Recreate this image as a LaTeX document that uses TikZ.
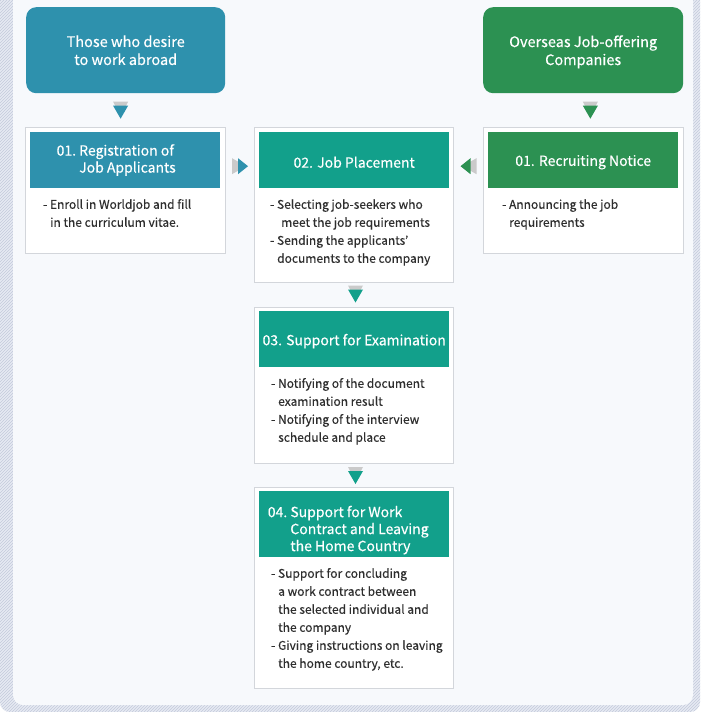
\documentclass[tikz,border=0pt]{standalone}
\usepackage{fontspec}
\setmainfont{Noto Sans CJK KR}[FakeBold=0.35]
\usetikzlibrary{patterns,calc}
\definecolor{bluec}{HTML}{2E91AD}
\definecolor{greenc}{HTML}{2C9152}
\definecolor{tealc}{HTML}{12A08B}
\definecolor{arrgrey}{HTML}{CACACA}
\definecolor{boxline}{HTML}{D3D6DB}
\definecolor{panelc}{HTML}{F7F9FC}
\definecolor{hatchbg}{HTML}{E6EAF2}
\definecolor{hatchln}{HTML}{C3CADB}
\definecolor{bodytxt}{HTML}{2E2E2E}
\newcommand\hdrfont{\fontsize{14}{17}\selectfont}
\newcommand\bodyfont{\fontsize{12}{18}\selectfont}
\begin{document}
\begin{tikzpicture}[x=1pt,y=-1pt,
  topbox/.style={rounded corners=10pt, inner sep=0pt, anchor=north west,
    text=white, align=center, font=\fontsize{14.5}{18}\selectfont},
  outerbox/.style={fill=white, draw=boxline, line width=1pt, inner sep=0pt, anchor=north west},
  hdrbox/.style={inner sep=0pt, anchor=north west, minimum width=190pt},
  hdrtext/.style={text=white, inner sep=0pt, font=\hdrfont, yshift=-2pt},
  bodytext/.style={anchor=north west, inner sep=0pt, align=left, text=bodytxt, font=\bodyfont},
  pics/dnarr/.style={code={
    \fill[arrgrey] (-7.5,-8.5) -- (7.5,-8.5) -- (0,6) -- cycle;
    \fill[#1] (-7.5,-4.5) -- (7.5,-4.5) -- (0,8.5) -- cycle;}},
  pics/rtarr/.style={code={
    \fill[arrgrey] (-8,-8) -- (-8,8) -- (6,0) -- cycle;
    \fill[#1] (-2,-8) -- (-2,8) -- (8,0) -- cycle;}},
  pics/ltarr/.style={code={
    \fill[arrgrey] (8,-8) -- (8,8) -- (-6,0) -- cycle;
    \fill[#1] (2,-8) -- (2,8) -- (-8,0) -- cycle;}}
]
\useasboundingbox (0,0) rectangle (715,712);
\clip (0,0) rectangle (715,712);
\fill[white] (0,0) rectangle (715,712);
% frame
\fill[hatchbg, rounded corners=10pt] (0,-30) rectangle (700,712);
\fill[pattern=north east lines, pattern color=hatchln, rounded corners=10pt] (0,-30) rectangle (700,712);
\fill[panelc, rounded corners=10pt] (13,-30) rectangle (693,705);

% top boxes
\node[topbox, fill=bluec, minimum width=199pt, minimum height=86pt, text depth=-2pt] (topL) at (26,7)
  {Those who desire\\ to work abroad};
\node[topbox, fill=greenc, minimum width=200pt, minimum height=86pt, text depth=-2pt] (topR) at (483,7)
  {Overseas Job-offering\\Companies};

% step boxes
\node[outerbox, minimum width=200pt, minimum height=126pt] (b1) at (25,127) {};
\node[hdrbox, fill=bluec, minimum height=56pt] (b1h) at (30,132) {};
\node[hdrtext, xshift=-9pt, yshift=1.5pt] (b1t) at (b1h.center)
  {01.~\begin{tabular}[t]{@{}l@{}}Registration of\\Job Applicants\end{tabular}};
\node[bodytext] (b1b) at ($(b1h.south west)+(13,7.6)$)
  {\strut- Enroll in Worldjob and fill\\\strut\hspace*{7pt}in the curriculum vitae.};

\node[outerbox, minimum width=199pt, minimum height=155pt] (b2) at (254,127) {};
\node[hdrbox, fill=tealc, minimum height=56pt] (b2h) at (259,132) {};
\node[hdrtext] (b2t) at (b2h.center) {02. Job Placement};
\node[bodytext] (b2b) at ($(b2h.south west)+(11,7.6)$)
  {\strut- Selecting job-seekers who\\\strut\hspace*{11pt}meet the job requirements\\
   \strut- Sending the applicants'\\\strut\hspace*{7pt}documents to the company};

\node[outerbox, minimum width=200pt, minimum height=126pt] (bR) at (483,127) {};
\node[hdrbox, fill=greenc, minimum height=56pt] (bRh) at (488,132) {};
\node[hdrtext] (bRt) at (bRh.center) {01. Recruiting Notice};
\node[bodytext] (bRb) at ($(bRh.south west)+(14,7.6)$)
  {\strut- Announcing the job\\\strut\hspace*{7pt}requirements};

\node[outerbox, minimum width=199pt, minimum height=156pt] (b3) at (254,307) {};
\node[hdrbox, fill=tealc, minimum height=56pt] (b3h) at (259,311) {};
\node[hdrtext] (b3t) at (b3h.center) {03. Support for Examination};
\node[bodytext] (b3b) at ($(b3h.south west)+(12,7.6)$)
  {\strut- Notifying of the document\\\strut\hspace*{7pt}examination result\\
   \strut- Notifying of the interview\\\strut\hspace*{7pt}schedule and place};

\node[outerbox, minimum width=199pt, minimum height=201pt] (b4) at (254,487) {};
\node[hdrbox, fill=tealc, minimum height=66pt] (b4h) at (259,491) {};
\node[hdrtext, xshift=-6pt, yshift=-4.5pt] (b4t) at (b4h.center)
  {04.~\begin{tabular}[t]{@{}l@{}}Support for Work\\Contract and Leaving\\the Home Country\end{tabular}};
\node[bodytext] (b4b) at ($(b4h.south west)+(12,7.6)$)
  {\strut- Support for concluding\\\strut\hspace*{7pt}a work contract between\\
   \strut\hspace*{7pt}the selected individual and\\\strut\hspace*{7pt}the company\\
   \strut- Giving instructions on leaving\\\strut\hspace*{7pt}the home country, etc.};

% connectors
\coordinate (a1) at ($($(topL.south)!.5!(b1.north)$)+(-5,0)$);
\coordinate (a2) at ($($(topR.south)!.5!(bR.north)$)+(7,0)$);
\coordinate (m12) at ($(b1.east)!.5!(b2.west)$);
\coordinate (mR2) at ($(bR.west)!.5!(b2.east)$);
\coordinate (hl) at ($(b1h.center)+(0,6)$);
\coordinate (a5) at ($($(b2.south)!.5!(b3.north)$)+(1.5,-1)$);
\coordinate (a6) at ($($(b3.south)!.5!(b4.north)$)+(1.5,0)$);
\pic at (a1) {dnarr=bluec};
\pic at (a2) {dnarr=greenc};
\pic at (m12 |- hl) {rtarr=bluec};
\pic at (mR2 |- hl) {ltarr=greenc};
\pic at (a5) {dnarr=tealc};
\pic at (a6) {dnarr=tealc};
\end{tikzpicture}
\end{document}
